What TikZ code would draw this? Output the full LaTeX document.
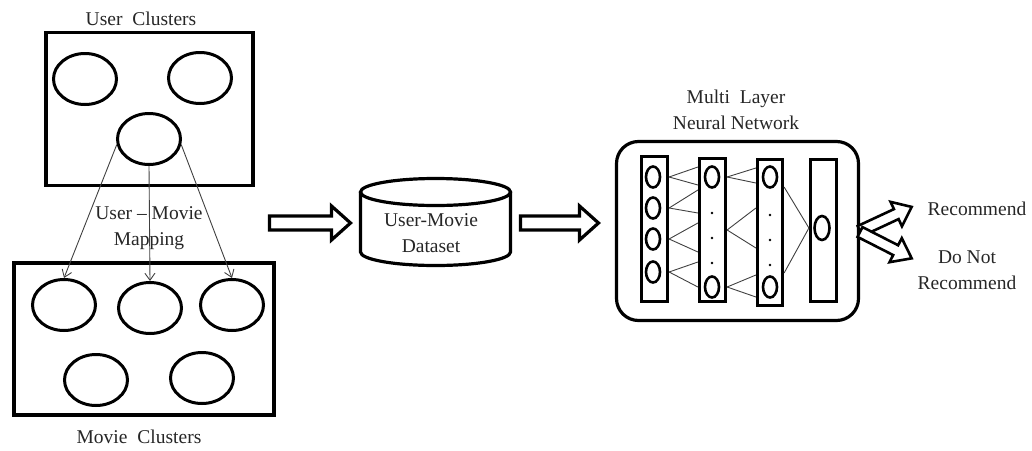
\documentclass[tikz,border=0pt]{standalone}
\usepackage{fontspec}
\setmainfont{Liberation Serif}
\usetikzlibrary{shapes.geometric,arrows.meta}
\begin{document}
\begin{tikzpicture}[x=1pt,y=-1pt,
  lbl/.style={font=\fontsize{19.5}{26}\selectfont, text=black!85, inner sep=0pt, align=center},
  bigbox/.style={draw, line width=3.6pt, rectangle, inner sep=0pt},
  clus/.style={draw, ellipse, line width=3pt, minimum width=63pt, minimum height=51pt, inner sep=0pt},
  layer/.style={draw, rectangle, line width=3.2pt, inner sep=0pt},
  neuron/.style={draw, ellipse, line width=2.6pt, minimum width=14pt, minimum height=21pt, inner sep=0pt},
  thin/.style={line width=0.9pt, black!75},
  maparrow/.style={thin, -{Straight Barb[length=7pt,width=10pt]}},
  blk/.style={draw, fill=white, line width=3.2pt, line join=miter},
  dot/.style={circle, fill=black, inner sep=0pt, minimum size=2.6pt}
]
\useasboundingbox (0,0) rectangle (1032,450);

% ---------- user clusters ----------
\node[bigbox, minimum width=206.8pt, minimum height=152.8pt] (ubox) at (149.5,109) {};
\node[clus] (u1) at (85,79) {};
\node[clus] (u2) at (200,78) {};
\node[clus] (u3) at (149,139) {};
\node[lbl, anchor=base] (tuc) at (141,25) {User\hspace{5pt} Clusters};

% ---------- movie clusters ----------
\node[bigbox, minimum width=259.8pt, minimum height=151.8pt] (mbox) at (144,339) {};
\node[clus] (m1) at (64,305) {};
\node[clus] (m2) at (150,308) {};
\node[clus] (m3) at (232,305) {};
\node[clus] (m4) at (96,380) {};
\node[clus] (m5) at (202,378) {};
\node[lbl, anchor=base] (tmc) at (139,443) {Movie\hspace{5pt} Clusters};

% ---------- mapping ----------
\node[lbl] (tmap) at (149,228) {User – Movie\\Mapping};
\draw[maparrow] (u3.190) -- (m1.north);
\draw[maparrow] (u3.south) -- (m2.north);
\draw[maparrow] (u3.350) -- (m3.north);

% ---------- block arrow 1 ----------
\draw[blk] (269.5,216) -- (331.5,216) -- (331.5,206) -- (350.5,223) -- (331.5,240) -- (331.5,230) -- (269.5,230) -- cycle;

% ---------- dataset cylinder ----------
\draw[line width=3.2pt] (360.5,192) -- (360.5,252)
  arc[start angle=180, end angle=360, x radius=75pt, y radius=13.5pt] -- (510.5,192);
\draw[line width=3.2pt] (435.5,192) ellipse [x radius=75pt, y radius=13.5pt];
\node[lbl] (ds) at (431,233.5) {User-Movie\\Dataset};

% ---------- block arrow 2 ----------
\draw[blk] (520.5,216) -- (579.5,216) -- (579.5,206) -- (598.5,223) -- (579.5,240) -- (579.5,230) -- (520.5,230) -- cycle;

% ---------- neural network ----------
\node[lbl] (tnn) at (736,110) {Multi\hspace{5pt} Layer\\Neural Network};
\node[draw, rectangle, rounded corners=22pt, line width=3.2pt, minimum width=242pt, minimum height=179pt, inner sep=0pt] (nn) at (737.5,231) {};

\node[layer, minimum width=26pt, minimum height=145pt] (l1) at (654.5,229) {};
\node[layer, minimum width=26pt, minimum height=143pt] (l2) at (712.5,230) {};
\node[layer, minimum width=25pt, minimum height=146pt] (l3) at (770,232.5) {};
\node[layer, minimum width=26pt, minimum height=142pt] (l4) at (823.5,230.5) {};

\node[neuron] (n11) at (653,177) {};
\node[neuron] (n12) at (653,208) {};
\node[neuron] (n13) at (653,239) {};
\node[neuron] (n14) at (653,272) {};
\node[neuron] (n21) at (712,177) {};
\node[neuron] (n22) at (712,287) {};
\node[neuron] (n31) at (770,177) {};
\node[neuron] (n32) at (770,287) {};
\node[neuron, minimum width=15pt, minimum height=24pt] (n41) at (822,228) {};

\node[dot] (d21) at (712,213) {};
\node[dot] (d22) at (712,238) {};
\node[dot] (d23) at (712,263) {};
\node[dot] (d31) at (770,215) {};
\node[dot] (d32) at (770,240) {};
\node[dot] (d33) at (770,265) {};

% layer 1 -> layer 2
\draw[thin] (n11 -| l1.east) -- (l2.west |- 0,167);
\draw[thin] (n11 -| l1.east) -- (l2.west |- 0,185);
\draw[thin] (n12 -| l1.east) -- (l2.west |- 0,190);
\draw[thin] (n12 -| l1.east) -- (l2.west |- 0,213);
\draw[thin] (n13 -| l1.east) -- (l2.west |- 0,223);
\draw[thin] (n13 -| l1.east) -- (l2.west |- 0,252);
\draw[thin] (n14 -| l1.east) -- (l2.west |- 0,262);
\draw[thin] (n14 -| l1.east) -- (l2.west |- 0,287);
% layer 2 -> layer 3
\draw[thin] (n21 -| l2.east) -- (l3.west |- 0,168);
\draw[thin] (n21 -| l2.east) -- (l3.west |- 0,183);
\draw[thin] (l2.east |- 0,230) -- (l3.west |- 0,208);
\draw[thin] (l2.east |- 0,230) -- (l3.west |- 0,248);
\draw[thin] (n22 -| l2.east) -- (l3.west |- 0,275);
\draw[thin] (n22 -| l2.east) -- (l3.west |- 0,297);
% layer 3 -> layer 4
\draw[thin] (l3.east |- 0,187) -- (l4.west |- n41);
\draw[thin] (l3.east |- 0,273) -- (l4.west |- n41);

% ---------- output arrows ----------
\begin{scope}[shift={(860,231)}, rotate=25]
  \draw[blk, line width=2.6pt] (0,5.5) -- (40,5.5) -- (40,13.5) -- (57,0) -- (40,-13.5) -- (40,-5.5) -- (0,-5.5) -- cycle;
\end{scope}
\begin{scope}[shift={(860,232)}, rotate=-27]
  \draw[blk, line width=2.6pt] (0,5.5) -- (40,5.5) -- (40,13.5) -- (58,0) -- (40,-13.5) -- (40,-5.5) -- (0,-5.5) -- cycle;
\end{scope}

\node[lbl, anchor=base] (trec) at (977,215) {Recommend};
\node[lbl] (tdnr) at (967,270) {Do Not\\Recommend};
\end{tikzpicture}
\end{document}
